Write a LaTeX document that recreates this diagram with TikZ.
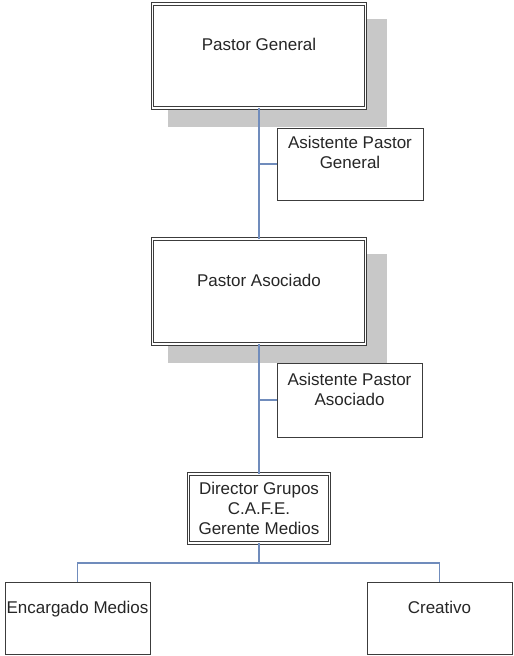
\documentclass[tikz,border=0pt]{standalone}
\usepackage{fontspec}
\setmainfont{Liberation Sans}
\usetikzlibrary{backgrounds}
\definecolor{linkblue}{RGB}{112,140,188}
\definecolor{shadowgray}{RGB}{200,200,200}
\definecolor{edgegray}{RGB}{60,60,60}
\begin{document}
\begin{tikzpicture}[x=1pt,y=-1pt,
  every node/.style={font=\fontsize{17}{20}\selectfont, text=black!85,
    outer sep=0pt, inner xsep=0pt, inner ysep=0pt, align=center},
  frame/.style={draw=edgegray, line width=1pt, fill=white},
  dblframe/.style={draw=edgegray, line width=1.1pt, double=white,
    double distance=1.4pt, fill=white},
  textpos/.style 2 args={text height=#1pt, text depth=#2pt},
  link/.style={draw=linkblue, line width=1.1pt},
  shadowfill/.style={fill=shadowgray}]
\useasboundingbox (0,0) rectangle (514,656);

% boxes (text height = top edge to last baseline)
\node[dblframe, minimum width=213pt, textpos={46}{58}] (pg) at (259,56) {Pastor General};
\node[frame, minimum width=146pt, textpos={40}{32}] (apg) at (350,164) {Asistente Pastor\\General};
\node[dblframe, minimum width=213pt, textpos={47}{58}] (pa) at (259,291.5) {Pastor Asociado};
\node[frame, minimum width=145pt, textpos={42}{32}] (apa) at (349.5,400) {Asistente Pastor\\Asociado};
\node[dblframe, minimum width=141pt, textpos={60}{9}] (dir) at (259,508.5) {Director Grupos\\C.A.F.E.\\Gerente Medios};
\node[frame, minimum width=145pt, textpos={31}{41}] (enc) at (77.5,618) {Encargado Medios};
\node[frame, minimum width=145pt, textpos={31}{41}] (cre) at (439.5,618) {Creativo};
\coordinate (bus) at (259,563);

% drop shadows of the two main boxes
\begin{scope}[on background layer]
  \fill[shadowfill] ([shift={(15,15)}]pg.north west) rectangle ([shift={(21,19)}]pg.south east);
  \fill[shadowfill] ([shift={(15,15)}]pa.north west) rectangle ([shift={(21,19)}]pa.south east);
\end{scope}

% connectors
\draw[link] (pg.south) -- (pa.north);
\draw[link] (pg.south |- apg.west) -- (apg.west);
\draw[link] (pa.south) -- (dir.north);
\draw[link] (pa.south |- apa.west) -- (apa.west);
\draw[link] (dir.south) -- (bus);
\draw[link] (enc.north) |- (bus) -| (cre.north);
\end{tikzpicture}
\end{document}
